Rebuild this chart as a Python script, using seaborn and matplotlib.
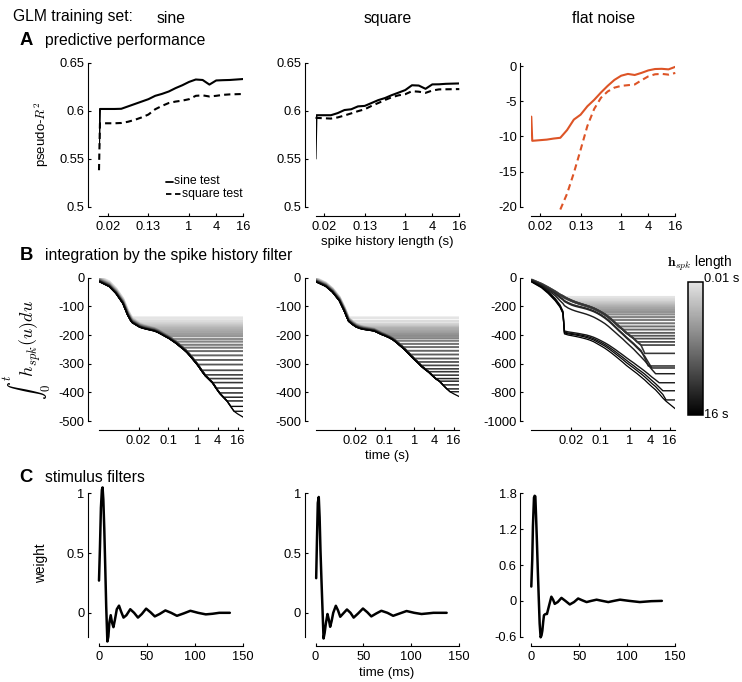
import numpy as np
import pandas as pd
import matplotlib
matplotlib.use("Agg")
import matplotlib.pyplot as plt
from matplotlib.lines import Line2D
from matplotlib.colors import LinearSegmentedColormap, LogNorm
from matplotlib.colorbar import ColorbarBase
from matplotlib.ticker import NullLocator
import seaborn as sns

sns.set_theme(style="ticks")
plt.rcParams.update({
    "font.family": ["Liberation Sans", "DejaVu Sans"],
    "mathtext.fontset": "cm",
    "axes.unicode_minus": False,
    "axes.edgecolor": "black",
    "text.color": "black",
    "axes.labelcolor": "black",
    "xtick.color": "black",
    "ytick.color": "black",
})

# ---------------- data ----------------
training_sets = ["sine", "square", "flat noise"]

# A: predictive performance vs spike-history length (s)
perf_len_s = [0.01, 0.0105, 0.0221, 0.03125, 0.0442, 0.0625, 0.0884, 0.125,
              0.177, 0.25, 0.354, 0.5, 0.707, 1.0, 1.41, 2.0, 2.83, 4.0,
              5.66, 8.0, 11.3, 16.0]
sine_train_sine_test = [0.5625, 0.6018, 0.6018, 0.6020, 0.6045, 0.6070, 0.6095,
                        0.6120, 0.6155, 0.6175, 0.6200, 0.6235, 0.6265, 0.6300,
                        0.6325, 0.6320, 0.6272, 0.6315, 0.6318, 0.6320, 0.6325, 0.6330]
sine_train_square_test = [0.538, 0.5869, 0.5869, 0.5872, 0.5885, 0.5905, 0.5930,
                          0.5960, 0.6015, 0.6050, 0.6080, 0.6095, 0.6105, 0.6120,
                          0.6155, 0.6160, 0.6148, 0.6155, 0.6165, 0.6170, 0.6172, 0.6174]
square_train_sine_test = [0.550, 0.5953, 0.5953, 0.5975, 0.6007, 0.6015, 0.6045,
                          0.6050, 0.6080, 0.6110, 0.6132, 0.6162, 0.6188, 0.6215,
                          0.6265, 0.6262, 0.6228, 0.6274, 0.6275, 0.6280, 0.6282, 0.6284]
square_train_square_test = [0.5925, 0.5925, 0.5918, 0.5930, 0.5950, 0.5972, 0.5995,
                            0.6015, 0.6050, 0.6080, 0.6112, 0.6140, 0.6160, 0.6172,
                            0.6203, 0.6198, 0.6186, 0.6210, 0.6222, 0.6223, 0.6224, 0.6225]
noise_train_sine_test = [-7.18, -10.62, -10.45, -10.30, -10.19, -9.09, -7.60,
                         -6.90, -5.70, -4.80, -3.75, -2.80, -1.95, -1.35,
                         -1.10, -1.25, -0.95, -0.60, -0.40, -0.37, -0.45, -0.09]
noise_train_square_test = [None, None, None, None, -20.4, -18.15, -15.2,
                           -11.9, -8.5, -6.1, -4.5, -3.6, -3.05, -2.8,
                           -2.7, -2.6, -2.0, -1.45, -1.15, -1.09, -1.2, -0.96]

# B: cumulative integral of the spike-history filter vs time (s)
early_t_s = [0.001, 0.002, 0.0032, 0.0052, 0.0073, 0.009]
hist_len_s = [0.01, 0.013, 0.017, 0.022, 0.028, 0.036, 0.047, 0.06, 0.078, 0.1,
              0.13, 0.17, 0.22, 0.28, 0.36, 0.46, 0.6, 0.77, 1.0, 1.3,
              1.65, 2.15, 2.8, 3.6, 4.6, 6.0, 7.7, 10.0, 12.5, 16.0]
t_end_s = 24.0

# trace of the longest filter; shorter filters sit slightly higher (shift per filter)
sine_integral = [-14, -31, -55, -90, -131, -150,
                 -157, -165, -173, -177, -180, -183, -186, -191, -198, -205,
                 -212, -221, -230, -240, -250, -261, -276, -291, -307, -326,
                 -342, -355, -368, -387, -404, -418, -431, -450, -466, -475,
                 -487]
sine_shift = [17, 15, 14, 13, 12, 11, 10, 9, 9, 8, 8, 7, 7, 6, 6,
              5, 5, 4, 4, 3, 3, 3, 2, 2, 2, 1, 1, 1, 0, 0]
square_integral = [-14, -30, -50, -80, -115, -140,
                   -152, -163, -172, -177, -180, -182, -184, -186, -192, -198,
                   -203, -209, -216, -225, -236, -246, -259, -272, -285, -297,
                   -309, -320, -330, -342, -353, -362, -375, -388, -398, -405,
                   -415]
square_shift = [12, 11, 10, 10, 9, 9, 8, 8, 7, 7, 6, 6, 5, 5, 5,
                4, 4, 4, 3, 3, 3, 2, 2, 2, 1, 1, 1, 0, 0, 0]
# flat noise: short filters share one trace, long filters each have their own
noise_band = [-16, -45, -70, -98, -120, -130,
              -137, -150, -162, -172, -180, -188, -196, -204, -214, -226,
              -240, -256, -275, -295, -318, -340, -362, -385, -405, -425,
              -448, -470, -528]
noise_long = [
    [-18, -50, -78, -108, -135, -150,
     -160, -174, -186, -194, -200, -206, -213, -221, -231, -243, -258, -276,
     -296, -318, -342, -366, -390, -414, -437, -460, -483, -508, -560, -616],
    [-19, -52, -80, -112, -140, -155,
     -166, -180, -192, -200, -206, -212, -219, -227, -237, -249, -264, -282,
     -302, -324, -348, -372, -396, -420, -443, -466, -490, -515, -548, -590, -630],
    [-20, -55, -88, -125, -160, -180,
     -195, -212, -224, -233, -240, -247, -255, -264, -275, -288, -303, -320,
     -340, -361, -383, -405, -428, -452, -476, -500, -525, -552, -580, -610,
     -640, -670],
    [-25, -60, -96, -145, -190, -235,
     -372, -378, -382, -386, -390, -395, -400, -407, -416, -427, -440, -454,
     -469, -485, -502, -520, -539, -558, -577, -595, -613, -632, -652, -672,
     -693, -713, -733],
    [-26, -62, -100, -150, -195, -240,
     -380, -386, -390, -394, -398, -403, -409, -416, -426, -438, -451, -466,
     -482, -499, -517, -536, -556, -576, -596, -615, -634, -653, -673, -695,
     -717, -740, -764, -789],
    [-28, -66, -105, -155, -200, -245,
     -385, -392, -396, -400, -405, -410, -417, -425, -435, -448, -462, -477,
     -494, -512, -531, -550, -571, -592, -612, -631, -650, -670, -692, -715,
     -738, -760, -787, -815, -853],
    [-30, -70, -110, -160, -205, -250,
     -392, -400, -405, -410, -415, -421, -428, -436, -447, -461, -476, -492,
     -510, -528, -548, -568, -590, -612, -632, -652, -670, -692, -714, -738,
     -760, -783, -810, -840, -862, -882, -915],
]

# C: stimulus filters, time (ms) and weight
stim_t_sine = [0, 1, 2, 3, 3.7, 4.5, 5.5, 6.5, 7.5, 8.7, 9.7, 10.8, 12.2, 13.5,
               15, 16.5, 18.5, 20.8, 23, 25.5, 28.5, 32.5, 36.5, 40.5, 44.5, 49,
               53.5, 58, 63, 69, 75, 81, 88, 95, 103, 111, 118, 125, 136]
stim_w_sine = [0.27, 0.55, 0.88, 1.03, 1.05, 0.95, 0.7, 0.38, 0.05, -0.24, -0.2,
               -0.08, -0.02, -0.08, -0.12, -0.06, 0.03, 0.06, 0.01, -0.04, -0.02,
               0.03, 0.0, -0.04, -0.01, 0.035, 0.005, -0.03, -0.01, 0.02, 0.0,
               -0.025, -0.005, 0.017, 0.0, -0.013, -0.008, 0.0, 0.0]
stim_t_square = [0.7, 1.5, 2.4, 3.4, 4.3, 5.2, 6.2, 7.3, 8.4, 9.5, 10.8, 12.5, 14,
                 15.3, 16.8, 18.5, 21.2, 23.5, 25.8, 29, 32.8, 36.5, 39.8, 44.5,
                 49.5, 54, 58.2, 63.5, 68.7, 75, 81, 88, 95, 103, 110.6, 117, 123,
                 136.8]
stim_w_square = [0.29, 0.6, 0.92, 0.97, 0.8, 0.52, 0.28, 0.03, -0.215, -0.17,
                 -0.09, -0.01, -0.06, -0.117, -0.07, 0.0, 0.059, 0.02, -0.033,
                 -0.005, 0.028, 0.0, -0.04, -0.005, 0.036, 0.005, -0.03, -0.005,
                 0.017, 0.0, -0.025, -0.005, 0.015, 0.0, -0.01, -0.005, 0.0, 0.0]
stim_t_noise = [0, 1, 1.7, 2.8, 3.5, 4.2, 5.0, 5.9, 6.8, 7.6, 8.7, 9.7, 10.6, 11.5,
                12.4, 13.2, 14.8, 16.3, 18.5, 20.9, 22.7, 24.4, 27.5, 31.4, 35.5,
                40.1, 44.5, 48.8, 53, 57.6, 62.5, 68, 74, 80.2, 86, 92.4, 102, 113,
                125, 136]
stim_w_noise = [0.24, 0.7, 1.25, 1.73, 1.76, 1.75, 1.4, 0.97, 0.5, 0.125, -0.38,
                -0.61, -0.58, -0.5, -0.35, -0.24, -0.22, -0.22, -0.08, 0.07, 0.02,
                -0.05, -0.02, 0.05, 0.0, -0.06, -0.02, 0.04, 0.01, -0.02, 0.0, 0.02,
                0.0, -0.02, 0.0, 0.02, 0.0, -0.02, -0.005, 0.0]

perf_ticks = [2 ** -6, 2 ** -3, 1, 4, 16]
perf_ticklabels = ["0.02", "0.13", "1", "4", "16"]
time_ticks = [2 ** -6, 2 ** -3, 1, 4, 16]
time_ticklabels = ["0.02", "0.1", "1", "4", "16"]

# ---------------- figure ----------------
W, H = 742, 682
fig = plt.figure(figsize=(W / 100, H / 100), dpi=100)


def rect(x0, x1, ytop, ybot):
    return [x0 / W, 1 - ybot / H, (x1 - x0) / W, (ybot - ytop) / H]


def fx(x):
    return x / W


def fy(y):
    return 1 - y / H


cols_x = [(99, 243.3), (315.5, 459.3), (531.3, 675.3)]
rows_y = [(62.7, 206.7), (277.7, 421.0), (493.4, 636.7)]
axes = [[fig.add_axes(rect(cx[0], cx[1], ry[0], ry[1])) for cx in cols_x] for ry in rows_y]

TICK_FS = 9.3
ORANGE = "#DD5426"
DASH = (0, (3, 2))


def style(ax):
    sns.despine(ax=ax, offset={"left": 7.9, "bottom": 6.7})
    for s in ("left", "bottom"):
        ax.spines[s].set_linewidth(0.8)
        ax.spines[s].set_color("black")
    ax.tick_params(direction="in", length=2.2, width=0.8, labelsize=TICK_FS, pad=2.5)
    ax.tick_params(axis="x", pad=3.5)
    ax.xaxis.set_minor_locator(NullLocator())
    ax.yaxis.set_minor_locator(NullLocator())
    ax.set_facecolor("none")
    ax.set_xlabel("")
    ax.set_ylabel("")


# ---- row A ----
perf = [
    (sine_train_sine_test, sine_train_square_test, "black"),
    (square_train_sine_test, square_train_square_test, "black"),
    (noise_train_sine_test, noise_train_square_test, ORANGE),
]
for j, (solid, dashed, col) in enumerate(perf):
    ax = axes[0][j]
    ax.set_xscale("log", base=2)
    d = pd.DataFrame({"len": perf_len_s, "solid": solid, "dashed": dashed}).astype(float)
    dd = d.dropna(subset=["dashed"])
    sns.lineplot(x=dd["len"], y=dd["dashed"], ax=ax, color=col, lw=1.5,
                 linestyle=DASH, estimator=None, sort=False, clip_on=False)
    sns.lineplot(x=d["len"], y=d["solid"], ax=ax, color=col, lw=1.5,
                 estimator=None, sort=False)
    ax.set_xlim(0.01, 16)
    ax.set_xticks(perf_ticks, perf_ticklabels)
    style(ax)
    if j < 2:
        ax.set_ylim(0.5, 0.65)
        ax.set_yticks([0.5, 0.55, 0.6, 0.65], ["0.5", "0.55", "0.6", "0.65"])
    else:
        ax.set_ylim(-20, 0.5)
        ax.set_yticks([-20, -15, -10, -5, 0], ["-20", "-15", "-10", "-5", "0"])

# key for the two test sets
fig.add_artist(Line2D([fx(166), fx(173)], [fy(182), fy(182)], color="black", lw=1.3))
fig.add_artist(Line2D([fx(166), fx(182)], [fy(193.5), fy(193.5)], color="black", lw=1.3,
                      linestyle=DASH))
fig.text(fx(173.5), fy(187), "sine test", fontsize=8.8, ha="left", va="bottom")
fig.text(fx(182.5), fy(188.5), "square test", fontsize=8.8, ha="left", va="top")

# ---- row B ----
cmap = LinearSegmentedColormap.from_list("hspk", ["#e4e4e4", "#000000"])
norm = LogNorm(vmin=0.01, vmax=16)
len_labels = [f"{L:g}" for L in hist_len_s]
palette = {lab: cmap(norm(L)) for lab, L in zip(len_labels, hist_len_s)}
widths = {lab: 2.0 - 1.1 * float(norm(L)) for lab, L in zip(len_labels, hist_len_s)}

t_int_s = early_t_s + hist_len_s + [t_end_s]
n_early = len(early_t_s)


def traces_from(curves):
    frames = []
    for lab, vals in zip(len_labels, curves):
        vals = list(vals)
        ts = t_int_s[:len(vals)]
        if len(vals) < len(t_int_s):
            ts = ts + [t_end_s]
            vals = vals + [vals[-1]]
        frames.append(pd.DataFrame({"t": ts, "v": vals, "len": lab}))
    return pd.concat(frames, ignore_index=True)


def shared_curves(base, shift):
    out = []
    for i in range(len(hist_len_s)):
        part = base[:n_early + i + 1] if i < len(hist_len_s) - 1 else base
        out.append([v + shift[i] for v in part])
    return out


n_band = len(noise_band) - n_early
noise_curves = [noise_band[:n_early + i + 1] for i in range(n_band)] + noise_long
integrals = [shared_curves(sine_integral, sine_shift),
             shared_curves(square_integral, square_shift),
             noise_curves]

for j, curves in enumerate(integrals):
    ax = axes[1][j]
    ax.set_xscale("log", base=2)
    df = traces_from(curves)
    sns.lineplot(data=df, x="t", y="v", hue="len", size="len",
                 hue_order=len_labels, size_order=len_labels,
                 palette=palette, sizes=widths, estimator=None, sort=False,
                 legend=False, ax=ax)
    ax.set_xlim(2 ** -10, 2 ** 4.58)
    ax.set_xticks(time_ticks, time_ticklabels)
    style(ax)
    if j < 2:
        ax.set_ylim(-500, 0)
        yt = [-500, -400, -300, -200, -100, 0]
    else:
        ax.set_ylim(-1000, 0)
        yt = [-1000, -800, -600, -400, -200, 0]
    ax.set_yticks(yt, [str(v) for v in yt])

# colour bar for filter length
cax = fig.add_axes(rect(688.3, 703.3, 281.7, 415.0))
cb = ColorbarBase(cax, cmap=cmap, norm=norm, orientation="vertical")
cb.set_ticks([])
cax.yaxis.set_minor_locator(NullLocator())
cax.invert_yaxis()
cb.outline.set_linewidth(1.1)
fig.text(fx(704.5), fy(278.5), "0.01 s", fontsize=TICK_FS, ha="left", va="center")
fig.text(fx(704.5), fy(415), "16 s", fontsize=TICK_FS, ha="left", va="center")
fig.text(fx(667), fy(266.5), r"$\mathbf{h}_{spk}$ length", fontsize=9.8,
         ha="left", va="baseline")

# ---- row C ----
stim = [(stim_t_sine, stim_w_sine), (stim_t_square, stim_w_square),
        (stim_t_noise, stim_w_noise)]
for j, (t, w) in enumerate(stim):
    ax = axes[2][j]
    sns.lineplot(x=t, y=w, ax=ax, color="black", lw=1.8, estimator=None,
                 sort=False, clip_on=False)
    ax.set_xlim(0, 150)
    ax.set_xticks([0, 50, 100, 150], ["0", "50", "100", "150"])
    style(ax)
    if j < 2:
        ax.set_ylim(-0.2, 1.0)
        ax.set_yticks([0, 0.5, 1], ["0", "0.5", "1"])
    else:
        ax.set_ylim(-0.6, 1.8)
        ax.set_yticks([-0.6, 0, 0.6, 1.2, 1.8], ["-0.6", "0", "0.6", "1.2", "1.8"])

# ---- text ----
fig.text(fx(13), fy(20.7), "GLM training set:", fontsize=11.3, va="baseline")
for name, cx in zip(training_sets, cols_x):
    fig.text(fx((cx[0] + cx[1]) / 2), fy(23.3), name, fontsize=11.3,
             ha="center", va="baseline")

for letter, title, yb in [("A", "predictive performance", 45),
                          ("B", "integration by the spike history filter", 260),
                          ("C", "stimulus filters", 481.7)]:
    fig.text(fx(19.5), fy(yb), letter, fontsize=13.3, fontweight="bold", va="baseline")
    fig.text(fx(45), fy(yb), title, fontsize=11.3, va="baseline")

fig.text(fx(42), fy(134.7), r"pseudo-$R^2$", fontsize=9.5, rotation=90,
         ha="center", va="center")
fig.text(fx(27), fy(350), r"$\int_0^t h_{spk}(u)du$", fontsize=13, rotation=90,
         ha="center", va="center")
fig.text(fx(41), fy(563), "weight", fontsize=9.8, rotation=90,
         ha="center", va="center")

fig.text(fx(387), fy(244.5), "spike history length (s)", fontsize=9.5,
         ha="center", va="baseline")
fig.text(fx(387), fy(459), "time (s)", fontsize=9.5, ha="center", va="baseline")
fig.text(fx(387), fy(676), "time (ms)", fontsize=9.5, ha="center", va="baseline")

fig.savefig("out.png", dpi=100)
